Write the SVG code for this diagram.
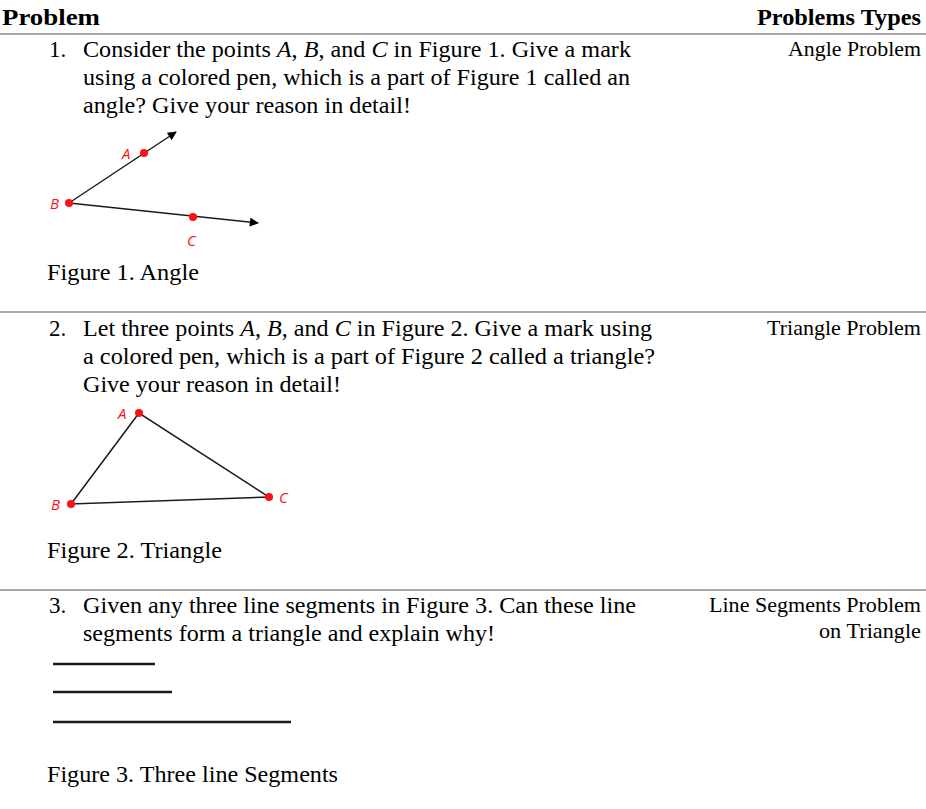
<svg xmlns="http://www.w3.org/2000/svg" width="926" height="809" viewBox="0 0 926 809">
<defs>
<style>
text{font-family:"Liberation Serif","Times New Roman",serif}
.t{font-size:23px;fill:#000}
.h{font-size:24px;font-weight:bold;fill:#000}
.r{font-size:22px;fill:#000}
.sep{stroke:#8c8c8c;stroke-width:1.3}
.ln{stroke:#1a1a1a;stroke-width:1.5;fill:none}
.seg{stroke:#1a1a1a;stroke-width:2.5}
.pt{fill:#ff1010}
text.lb{font-family:"Open Sans","DejaVu Sans",sans-serif;font-size:15px;font-style:italic;fill:#ff1010}
</style>
<marker id="ah" viewBox="0 0 10 10" refX="9" refY="5" markerWidth="10" markerHeight="9" markerUnits="userSpaceOnUse" orient="auto">
<path d="M0,0 L10,5 L0,10 z" fill="#000"/>
</marker>
</defs>
<rect width="926" height="809" fill="#fff"/>

<g id="header">
<text class="h" x="2" y="25" textLength="98" lengthAdjust="spacingAndGlyphs">Problem</text>
<text class="h" x="757" y="25" textLength="164" lengthAdjust="spacingAndGlyphs">Problems Types</text>
<line class="sep" x1="0" y1="34" x2="926" y2="34"/>
<line class="sep" x1="0" y1="312" x2="926" y2="312"/>
<line class="sep" x1="0" y1="590" x2="926" y2="590"/>
</g>

<g id="problem1">
<text class="t" x="49" y="57">1.</text>
<text class="t" x="83" y="57" textLength="548" lengthAdjust="spacingAndGlyphs">Consider the points <tspan font-style="italic">A</tspan>, <tspan font-style="italic">B</tspan>, and <tspan font-style="italic">C</tspan> in Figure 1. Give a mark</text>
<text class="t" x="83" y="85" textLength="547" lengthAdjust="spacingAndGlyphs">using a colored pen, which is a part of Figure 1 called an</text>
<text class="t" x="83" y="113" textLength="328" lengthAdjust="spacingAndGlyphs">angle? Give your reason in detail!</text>
<text class="r" x="788" y="56" textLength="133" lengthAdjust="spacingAndGlyphs">Angle Problem</text>
<g id="figure1">
<line class="ln" x1="69" y1="203" x2="176" y2="132" marker-end="url(#ah)"/>
<line class="ln" x1="69" y1="203" x2="258" y2="223" marker-end="url(#ah)"/>
<circle class="pt" cx="69" cy="203" r="4"/>
<circle class="pt" cx="144" cy="153" r="4"/>
<circle class="pt" cx="193" cy="217" r="4"/>
<text class="lb" x="122" y="159">A</text>
<text class="lb" x="50" y="209">B</text>
<text class="lb" x="187" y="246">C</text>
</g>
<text class="t" x="47" y="280" textLength="152" lengthAdjust="spacingAndGlyphs">Figure 1. Angle</text>
</g>

<g id="problem2">
<text class="t" x="49" y="336">2.</text>
<text class="t" x="83" y="336" textLength="569" lengthAdjust="spacingAndGlyphs">Let three points <tspan font-style="italic">A</tspan>, <tspan font-style="italic">B</tspan>, and <tspan font-style="italic">C</tspan> in Figure 2. Give a mark using</text>
<text class="t" x="83" y="364" textLength="572" lengthAdjust="spacingAndGlyphs">a colored pen, which is a part of Figure 2 called a triangle?</text>
<text class="t" x="83" y="392" textLength="258" lengthAdjust="spacingAndGlyphs">Give your reason in detail!</text>
<text class="r" x="767" y="335" textLength="154" lengthAdjust="spacingAndGlyphs">Triangle Problem</text>
<g id="figure2">
<polygon class="ln" points="139,413 71,504 269,497"/>
<circle class="pt" cx="139" cy="413" r="4"/>
<circle class="pt" cx="71" cy="504" r="4"/>
<circle class="pt" cx="269" cy="497" r="4"/>
<text class="lb" x="118" y="419">A</text>
<text class="lb" x="51" y="510">B</text>
<text class="lb" x="279" y="503">C</text>
</g>
<text class="t" x="47" y="558" textLength="175" lengthAdjust="spacingAndGlyphs">Figure 2. Triangle</text>
</g>

<g id="problem3">
<text class="t" x="49" y="613">3.</text>
<text class="t" x="83" y="613" textLength="553" lengthAdjust="spacingAndGlyphs">Given any three line segments in Figure 3. Can these line</text>
<text class="t" x="83" y="641" textLength="412" lengthAdjust="spacingAndGlyphs">segments form a triangle and explain why!</text>
<text class="r" x="709" y="612" textLength="212" lengthAdjust="spacingAndGlyphs">Line Segments Problem</text>
<text class="r" x="819" y="638" textLength="102" lengthAdjust="spacingAndGlyphs">on Triangle</text>
<g id="figure3">
<line class="seg" x1="53" y1="664" x2="155" y2="664"/>
<line class="seg" x1="53" y1="692" x2="172" y2="692"/>
<line class="seg" x1="53" y1="722" x2="291" y2="722"/>
</g>
<text class="t" x="47" y="782" textLength="291" lengthAdjust="spacingAndGlyphs">Figure 3. Three line Segments</text>
</g>
</svg>
